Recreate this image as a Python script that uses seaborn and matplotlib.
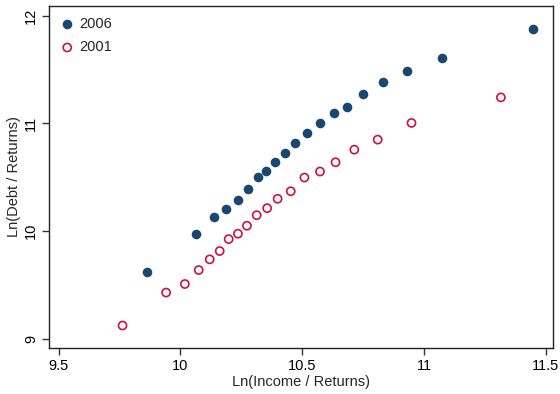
import matplotlib
matplotlib.use("Agg")
import matplotlib.pyplot as plt
import seaborn as sns
import pandas as pd

income_2006 = [9.864, 10.063, 10.137, 10.189, 10.235, 10.277, 10.318, 10.351, 10.388, 10.429,
               10.472, 10.520, 10.574, 10.632, 10.685, 10.751, 10.831, 10.930, 11.075, 11.447]
debt_2006 = [9.625, 9.969, 10.130, 10.206, 10.287, 10.395, 10.506, 10.562, 10.645, 10.729,
             10.818, 10.911, 11.006, 11.099, 11.155, 11.270, 11.383, 11.484, 11.606, 11.877]
income_2001 = [9.762, 9.941, 10.018, 10.075, 10.120, 10.161, 10.198, 10.236, 10.273, 10.313,
               10.356, 10.399, 10.453, 10.509, 10.573, 10.637, 10.714, 10.810, 10.949, 11.316]
debt_2001 = [9.124, 9.430, 9.509, 9.639, 9.738, 9.815, 9.926, 9.976, 10.050, 10.148,
             10.213, 10.300, 10.370, 10.497, 10.553, 10.639, 10.756, 10.849, 11.004, 11.241]
x_ticks = [9.5, 10, 10.5, 11, 11.5]
x_tick_labels = ["9.5", "10", "10.5", "11", "11.5"]
y_ticks = [9, 10, 11, 12]
y_tick_labels = ["9", "10", "11", "12"]

sns.set_theme(style="ticks")
plt.rcParams["font.family"] = ["Liberation Sans", "DejaVu Sans"]

df06 = pd.DataFrame({"x": income_2006, "y": debt_2006})
df01 = pd.DataFrame({"x": income_2001, "y": debt_2001})

fig = plt.figure(figsize=(5.6, 3.94), dpi=100)
ax = fig.add_axes([0.0875, 0.118, 0.9, 0.867])

navy = "#1a476f"
red = "#d0103f"

sns.scatterplot(data=df06, x="x", y="y", ax=ax, color=navy, s=48, linewidth=0,
                label="2006")
sns.scatterplot(data=df01, x="x", y="y", ax=ax, facecolor="none", edgecolor=red,
                s=34, linewidth=1.2, label="2001")

ax.set_xlim(9.46, 11.53)
ax.set_ylim(8.92, 12.09)
ax.set_xticks(x_ticks)
ax.set_xticklabels(x_tick_labels)
ax.set_yticks(y_ticks)
ax.set_yticklabels(y_tick_labels, rotation=90, va="center")
ax.set_xlabel("Ln(Income / Returns)", fontsize=10.5, labelpad=2)
ax.set_ylabel("Ln(Debt / Returns)", fontsize=10.5, labelpad=2)
ax.tick_params(axis="both", direction="out", length=5, width=1, colors="#333333",
               labelsize=10.5, labelcolor="black", pad=3)
for sp in ax.spines.values():
    sp.set_visible(True)
    sp.set_linewidth(1.0)
    sp.set_color("#222222")

leg = ax.legend(loc="upper left", frameon=False, fontsize=10.5, handletextpad=0.35,
                borderaxespad=0.2, labelspacing=0.65, handlelength=1.0,
                borderpad=0.55)

fig.savefig("out.png", dpi=100)
